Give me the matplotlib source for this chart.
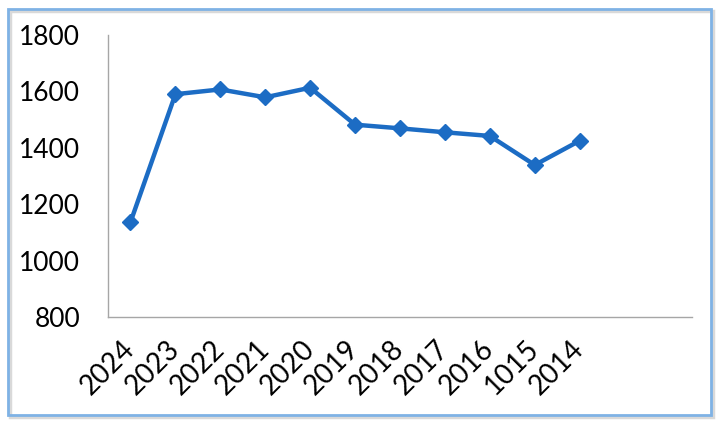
import matplotlib
matplotlib.use('Agg')
import matplotlib.pyplot as plt
from matplotlib.patches import FancyBboxPatch

# ── Data ──────────────────────────────────────────────────────────────────────
years  = ['2024', '2023', '2022', '2021', '2020', '2019', '2018',
          '2017', '2016', '1015', '2014', '', '']
values = [1136, 1590, 1607, 1579, 1613, 1482, 1469, 1455, 1442, 1339, 1425]

LINE_COLOR = '#1c6cc4'
plt.rcParams['font.family'] = ['Lato', 'DejaVu Sans']

fig = plt.figure(figsize=(7.2, 4.23), dpi=100)

# faint shadow + light blue frame around the chart
shadow = FancyBboxPatch((10 / 720, 6 / 423), 703 / 720, 406 / 423,
                        boxstyle='square,pad=0', transform=fig.transFigure,
                        facecolor='none', edgecolor='#d9d9d9', linewidth=2.5,
                        zorder=9)
frame = FancyBboxPatch((8 / 720, 8 / 423), 703 / 720, 406 / 423,
                       boxstyle='square,pad=0', transform=fig.transFigure,
                       facecolor='none', edgecolor='#7fb2e5', linewidth=2.0,
                       zorder=10)
fig.patches.extend([shadow, frame])

ax = fig.add_axes([108 / 720, 1 - 317 / 423, 584 / 720, 282 / 423])
ax.set_facecolor('none')

x = list(range(len(values)))
ax.plot(x, values, color=LINE_COLOR, linewidth=3.2, marker='D',
        markersize=8, markerfacecolor=LINE_COLOR, markeredgecolor=LINE_COLOR)

ax.set_xlim(-0.5, len(years) - 0.5)
ax.set_ylim(800, 1800)
ax.set_yticks(range(800, 1801, 200))
ax.set_xticks(range(len(years)))
ax.set_xticklabels(years, rotation=45, ha='right', va='center',
                   rotation_mode='anchor')

for side in ('top', 'right'):
    ax.spines[side].set_visible(False)
for side in ('left', 'bottom'):
    ax.spines[side].set_color('#a6a6a6')
    ax.spines[side].set_linewidth(1.0)

ax.tick_params(axis='both', length=0, labelsize=19, colors='black')
ax.tick_params(axis='x', labelsize=20, pad=20)
ax.tick_params(axis='y', pad=20)

fig.savefig('out.png', dpi=100)
